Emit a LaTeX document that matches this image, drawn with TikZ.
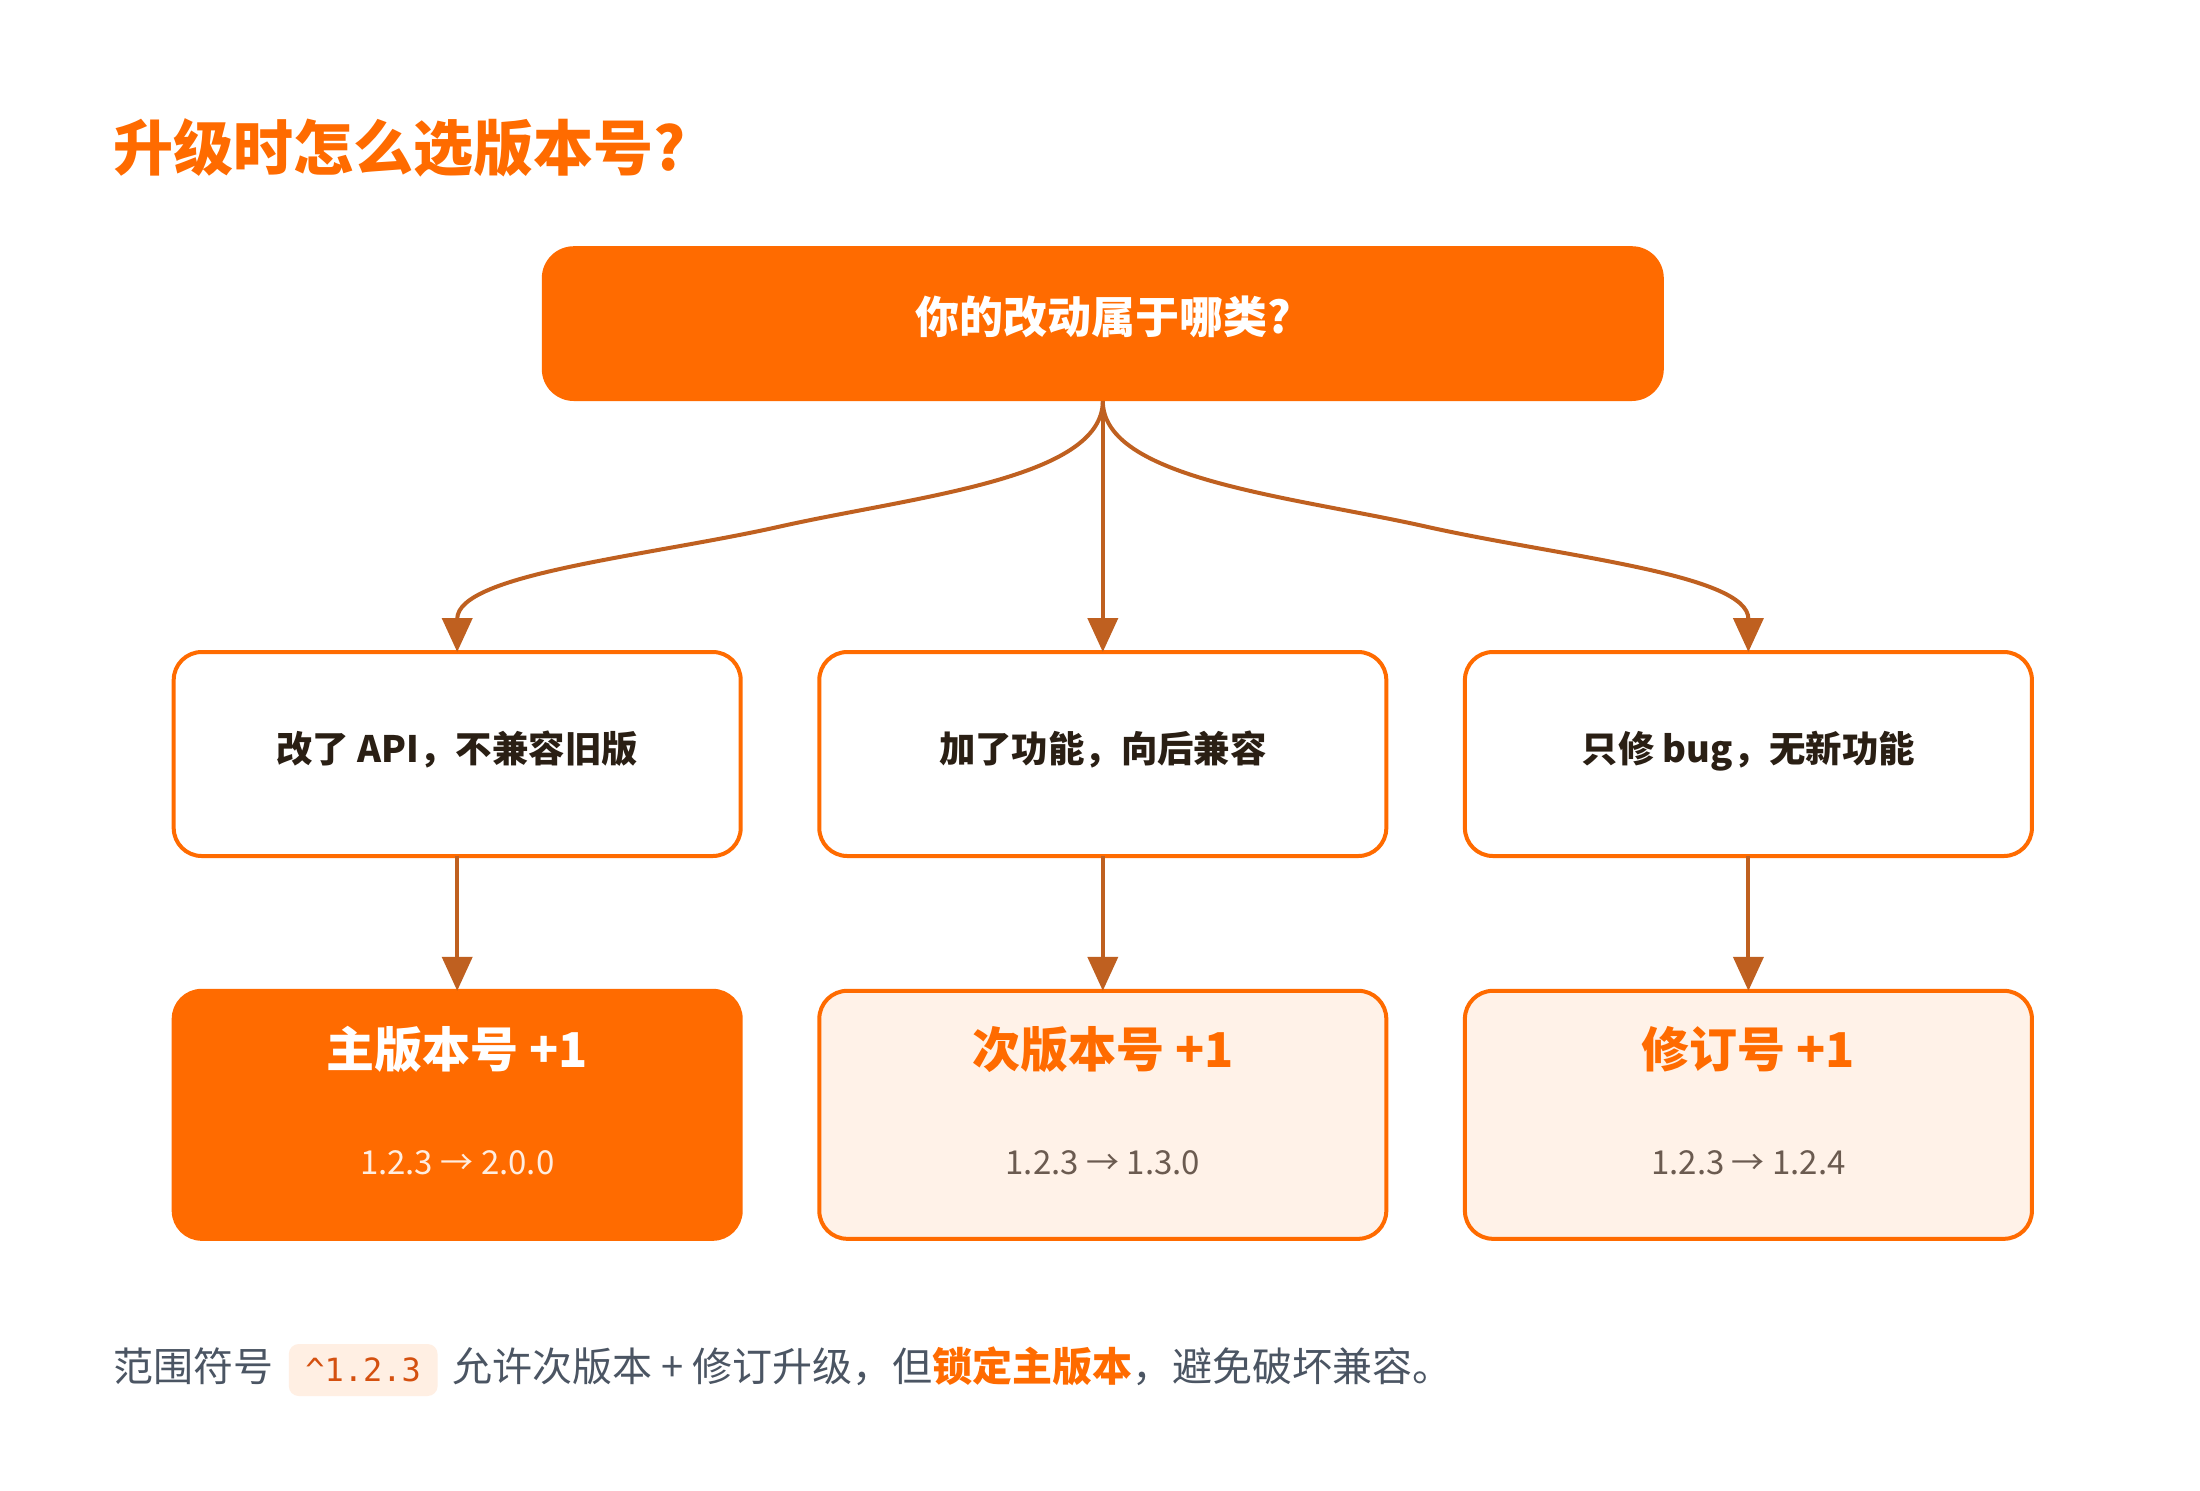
\documentclass[tikz,border=0pt]{standalone}
\usepackage{fontspec}
\setmainfont{Noto Sans CJK SC}
\newfontfamily\codefont{DejaVu Sans Mono}
\usepackage{xcolor}
\usepackage{tikz}
\usetikzlibrary{arrows.meta,positioning,calc}

\definecolor{brand}{HTML}{FF6B00}
\definecolor{arrowc}{HTML}{BF6020}
\definecolor{soft}{HTML}{FFF2E8}
\definecolor{ink}{HTML}{2A1F14}
\definecolor{subink}{HTML}{6B5B50}
\definecolor{footink}{HTML}{4B5563}
\definecolor{codeink}{HTML}{D4500F}
\definecolor{codebg}{HTML}{FFEFE3}

\tikzset{
  qbox/.style={fill=brand, rounded corners=16pt, minimum width=561pt, minimum height=77.4pt,
    inner sep=0pt, outer sep=0pt, text=white, text depth=9pt, font=\fontsize{22pt}{26pt}\selectfont\bfseries},
  cbox/.style={draw=brand, fill=white, line width=2pt, rounded corners=14pt, minimum width=283.5pt,
    minimum height=102pt, inner sep=0pt, outer sep=0pt, text=ink, text depth=7.5pt,
    font=\fontsize{18.2pt}{22pt}\selectfont\bfseries},
  rbox/.style={draw=brand, fill=soft, line width=2pt, rounded corners=14pt, minimum width=283.5pt,
    minimum height=124pt, inner sep=0pt, outer sep=0pt},
  head/.style={text=brand, inner sep=0pt, font=\fontsize{24pt}{28pt}\selectfont\bfseries},
  ver/.style={text=subink, inner sep=0pt, font=\fontsize{16.5pt}{20pt}\selectfont},
  arr/.style={draw=arrowc, line width=2pt, -{Triangle[length=17pt,width=15pt]}},
  foot/.style={text=footink, inner sep=0pt, font=\fontsize{20pt}{24pt}\selectfont},
}

\begin{document}
\begin{tikzpicture}[x=1pt,y=-1pt]
\path[use as bounding box, fill=white] (0,0) rectangle (1100,745);

% Title
\node[anchor=west, inner sep=0pt, text=brand, font=\fontsize{30pt}{36pt}\selectfont\bfseries] (title) at (56.3,73.8) {升级时怎么选版本号?};

% Question
\node[qbox] (ask) at (551.4,161.8) {你的改动属于哪类?};

% Kinds of change
\node[cbox, below=125.5pt of ask] (feat) {加了功能，向后兼容};
\node[cbox, left=39.3pt of feat] (brk) {改了 API，不兼容旧版};
\node[cbox, right=39.3pt of feat] (fix) {只修 bug，无新功能};

% Results
\node[rbox, fill=brand, below=67.4pt of brk] (major) {};
\node[rbox, below=67.4pt of feat] (minor) {};
\node[rbox, below=67.4pt of fix] (patch) {};

\node[head, text=white] (majorT) at ([yshift=-29.3pt]major.north) {主版本号 +1};
\node[ver, text=white!88!brand] (majorV) at ([yshift=-86.2pt]major.north) {1.2.3 → 2.0.0};
\node[head] (minorT) at ([yshift=-29.3pt]minor.north) {次版本号 +1};
\node[ver] (minorV) at ([yshift=-86.2pt]minor.north) {1.2.3 → 1.3.0};
\node[head] (patchT) at ([yshift=-29.3pt]patch.north) {修订号 +1};
\node[ver] (patchV) at ([yshift=-86.2pt]patch.north) {1.2.3 → 1.2.4};

% Branches
\draw[arr] (ask.south) .. controls +(0,39) and +(67,-15) .. ($(ask.south)!0.5!(brk.north)$)
  .. controls +(-67,15) and +(0,-39) .. (brk.north);
\draw[arr] (ask.south) -- (feat.north);
\draw[arr] (ask.south) .. controls +(0,39) and +(-67,-15) .. ($(ask.south)!0.5!(fix.north)$)
  .. controls +(67,15) and +(0,-39) .. (fix.north);

\foreach \a/\b in {brk/major, feat/minor, fix/patch}
  \draw[arr] (\a.south) -- (\b.north);

% Footnote
\node[foot, anchor=base west] (foot1) at (56.3,690.5) {范围符号};
\node[base right=7.5pt of foot1, fill=codebg, rounded corners=5pt, text=codeink, inner xsep=8.3pt,
  inner ysep=5.5pt, text height=13pt, text depth=2pt, font=\codefont\fontsize{16pt}{20pt}\selectfont] (code) {\^{}1.2.3};
\node[foot, base right=7pt of code] (foot2) {允许次版本 + 修订升级，但{\color{brand}\bfseries 锁定主版本}，避免破坏兼容。};
\end{tikzpicture}
\end{document}
